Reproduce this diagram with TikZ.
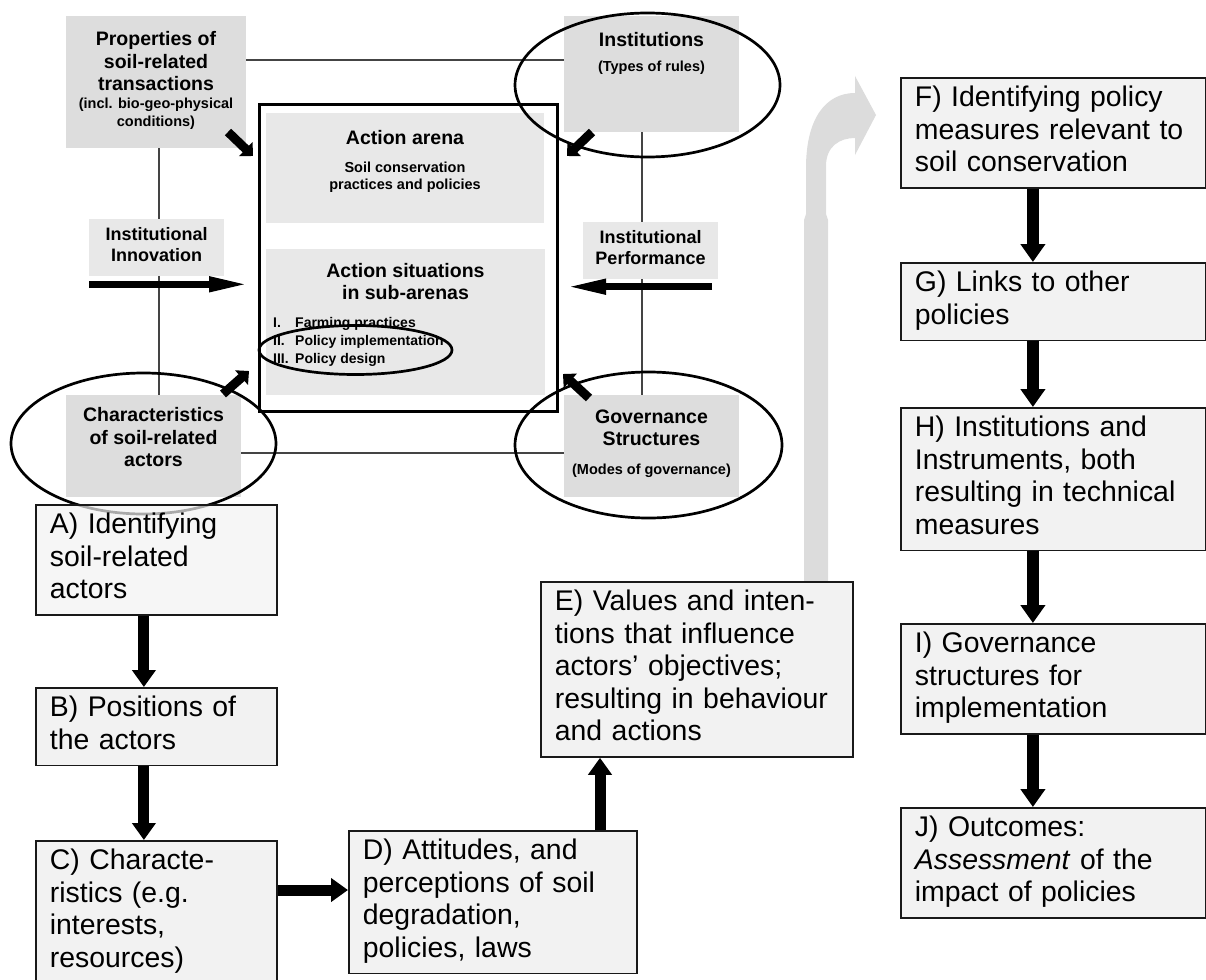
\documentclass[tikz,border=0pt]{standalone}
\usepackage{fontspec}
\setmainfont{Liberation Sans}
\usetikzlibrary{arrows.meta,shapes.geometric,calc}

\definecolor{factorgray}{HTML}{DDDDDD}
\definecolor{panelgray}{HTML}{E8E8E8}
\definecolor{stepfill}{HTML}{F2F2F2}
\definecolor{framegray}{HTML}{444444}
\definecolor{bendgray}{HTML}{DCDCDC}

\begin{document}
\begin{tikzpicture}[x=1pt,y=-1pt,
  frameline/.style={draw=framegray, line width=1.1pt},
  factorbox/.style={fill=factorgray, inner sep=0pt, anchor=north west},
  panelbox/.style={fill=panelgray, inner sep=0pt, anchor=north west},
  ring/.style={ellipse, draw=black, line width=2.7pt, inner sep=0pt},
  headtext/.style={font=\bfseries\fontsize{19.5}{22.5}\selectfont, align=center, inner sep=0pt,
    execute at begin node=\strut, execute at end node=\strut},
  sidetext/.style={font=\bfseries\fontsize{18}{20.5}\selectfont, align=center, inner sep=0pt,
    execute at begin node=\strut, execute at end node=\strut},
  subtext/.style={font=\bfseries\fontsize{14.5}{18}\selectfont, align=center, inner sep=0pt,
    execute at begin node=\strut, execute at end node=\strut},
  arenasub/.style={font=\bfseries\fontsize{14.5}{16.5}\selectfont, align=center, inner sep=0pt,
    execute at begin node=\strut, execute at end node=\strut},
  listtext/.style={font=\bfseries\fontsize{14}{18}\selectfont, inner sep=0pt, anchor=base west},
  stepbox/.style={draw=black!90, line width=1.8pt, fill=stepfill, anchor=north west,
    align=left, inner xsep=14pt, inner ysep=6.25pt, font=\fontsize{28.4}{32.5}\selectfont,
    execute at begin node=\strut, execute at end node=\strut},
  steparrow/.style={draw=black, line width=11pt, -{Triangle[length=17pt,width=23pt]}},
  colarrow/.style={draw=black, line width=12pt, -{Triangle[length=18pt,width=24pt]}},
  flowarrow/.style={draw=black, line width=7pt, -{Triangle[length=40pt,width=14pt]}},
  diagarrow/.style={draw=black, line width=9pt, -{Triangle[length=10pt,width=19pt]}}
]
\useasboundingbox (0,0) rectangle (1206,979);

% thin frame linking the four factor boxes
\coordinate (frameNW) at (159,60);
\coordinate (frameSE) at (642,453);
\draw[frameline] (frameNW) rectangle (frameSE);

% broad grey bent arrow leading from E) over to F)
\fill[bendgray] (804,581) -- (804,220) -- (806,214) -- (806,168)
  .. controls (806,118) and (826,93) .. (855,93) -- (855,76) -- (876,115) -- (855,155) -- (855,138)
  .. controls (840,138) and (826,146) .. (826,166) -- (826,214) -- (828,220) -- (828,581) -- cycle;

% factor boxes
\node[factorbox, minimum width=180pt, minimum height=132pt] (prop) at (66,16) {};
\node[factorbox, minimum width=175pt, minimum height=116pt] (inst) at (564,16) {};
\node[factorbox, minimum width=175pt, minimum height=102pt] (char) at (66,395) {};
\node[factorbox, minimum width=175pt, minimum height=102pt] (gov) at (564,395) {};
\node[panelbox, minimum width=135pt, minimum height=57pt] (innov) at (89,219) {};
\node[panelbox, minimum width=135pt, minimum height=57pt] (perf) at (583,222) {};

% action arena
\node[draw=black, line width=3pt, fill=white, inner sep=0pt, anchor=north west,
  minimum width=298pt, minimum height=307pt] (arena) at (258,103) {};
\node[panelbox, minimum width=278pt, minimum height=110pt] (arenaTop) at (266,113) {};
\node[panelbox, minimum width=279pt, minimum height=146pt] (arenaSub) at (266,249) {};

% texts of the factor boxes
\node[headtext, anchor=north] (propT) at (156,31.25) {Properties of\\soil-related\\transactions};
\node[subtext, anchor=north] (propS) at (156,97.4) {(incl. bio-geo-physical\\conditions)};
\node[headtext, anchor=base] (instT) at (651.5,47) {Institutions};
\node[subtext, anchor=base] (instS) at (651.5,72) {(Types of rules)};
\node[sidetext, anchor=north] (innovT) at (156.5,227.6) {Institutional\\Innovation};
\node[sidetext, anchor=north] (perfT) at (650.5,230.6) {Institutional\\Performance};
\node[headtext, anchor=north] (charT) at (153.5,407.3) {Characteristics\\of soil-related\\actors};
\node[headtext, anchor=north] (govT) at (651.5,409.6) {Governance\\Structures};
\node[subtext, anchor=base] (govS) at (651.5,474) {(Modes of governance)};

% texts of the action arena
\node[headtext, anchor=base] (arenaT) at (405,144.3) {Action arena};
\node[arenasub, anchor=north] (arenaS) at (405,161.8) {Soil conservation\\practices and policies};
\node[headtext, anchor=north] (subT) at (405.5,262.9) {Action situations\\in sub-arenas};
\node[listtext] (l1) at (273,327) {I.};
\node[listtext] (l1t) at (295,327) {Farming practices};
\node[listtext] (l2) at (273,345) {II.};
\node[listtext] (l2t) at (295,345) {Policy implementation};
\node[listtext] (l3) at (273,363) {III.};
\node[listtext] (l3t) at (295,363) {Policy design};

% rings
\node[ring, minimum width=265pt, minimum height=144pt] (instRing) at (647.5,85) {};
\node[ring, minimum width=265pt, minimum height=141pt] (charRing) at (143.5,443.5) {};
\node[ring, minimum width=267pt, minimum height=146pt] (govRing) at (648.5,445) {};
\node[ring, minimum width=193pt, minimum height=49pt] (listRing) at (355.5,350) {};

% short arrows into the arena
\coordinate (propFrom) at (228,132);
\coordinate (propTo) at (253,156);
\coordinate (instFrom) at (592,132);
\coordinate (instTo) at (567,156);
\coordinate (charFrom) at (223,394);
\coordinate (charTo) at (249,371);
\coordinate (govFrom) at (589,398);
\coordinate (govTo) at (563,374);
\draw[diagarrow] (propFrom) -- (propTo);
\draw[diagarrow] (instFrom) -- (instTo);
\draw[diagarrow] (charFrom) -- (charTo);
\draw[diagarrow] (govFrom) -- (govTo);

\coordinate (innovFrom) at (89,284.3);
\coordinate (innovTo) at (249,284.3);
\coordinate (perfFrom) at (712,286.7);
\coordinate (perfTo) at (566,286.7);
\draw[flowarrow] (innovFrom) -- (innovTo);
\draw[flowarrow] (perfFrom) -- (perfTo);

% analysis steps, left branch
\node[stepbox, text width=213pt, fill opacity=0.7, text opacity=1] (stepA) at (35,504)
  {A) Identifying\\soil-related\\actors};
\node[stepbox, text width=213pt] (stepB) at (35,687) {B) Positions of\\the actors};
\node[stepbox, text width=213pt] (stepC) at (35,840)
  {C) Characte-\\ristics (e.g.\\interests,\\resources)\\\mbox{}};
\node[stepbox, text width=260pt] (stepD) at (348,830)
  {D) Attitudes, and\\perceptions of soil\\degradation,\\policies, laws};
\node[stepbox, text width=284pt] (stepE) at (540,581)
  {E) Values and inten-\\tions that influence\\actors’ objectives;\\resulting in behaviour\\and actions};

% analysis steps, right branch
\node[stepbox, text width=277pt] (stepF) at (900,77)
  {F) Identifying policy\\measures relevant to\\soil conservation};
\node[stepbox, text width=277pt] (stepG) at (900,262) {G) Links to other\\policies};
\node[stepbox, text width=277pt] (stepH) at (900,407)
  {H) Institutions and\\Instruments, both\\resulting in technical\\measures};
\node[stepbox, text width=277pt] (stepI) at (900,623)
  {I) Governance\\structures for\\implementation};
\node[stepbox, text width=277pt] (stepJ) at (900,807)
  {J) Outcomes:\\\textit{Assessment} of the\\impact of policies};

% step arrows
\coordinate (cdLevel) at (0,890);
\coordinate (deColumn) at (600,0);
\draw[steparrow] ([xshift=-12.5pt]stepA.south) -- ([xshift=-12.5pt]stepB.north);
\draw[steparrow] ([xshift=-12.5pt]stepB.south) -- ([xshift=-12.5pt]stepC.north);
\draw[steparrow] (stepC.east |- cdLevel) -- (stepD.west |- cdLevel);
\draw[steparrow] (stepD.north -| deColumn) -- (stepE.south -| deColumn);
\draw[colarrow] ([xshift=-20.5pt]stepF.south) -- ([xshift=-20.5pt]stepG.north);
\draw[colarrow] ([xshift=-20.5pt]stepG.south) -- ([xshift=-20.5pt]stepH.north);
\draw[colarrow] ([xshift=-20.5pt]stepH.south) -- ([xshift=-20.5pt]stepI.north);
\draw[colarrow] ([xshift=-20.5pt]stepI.south) -- ([xshift=-20.5pt]stepJ.north);
\end{tikzpicture}
\end{document}
